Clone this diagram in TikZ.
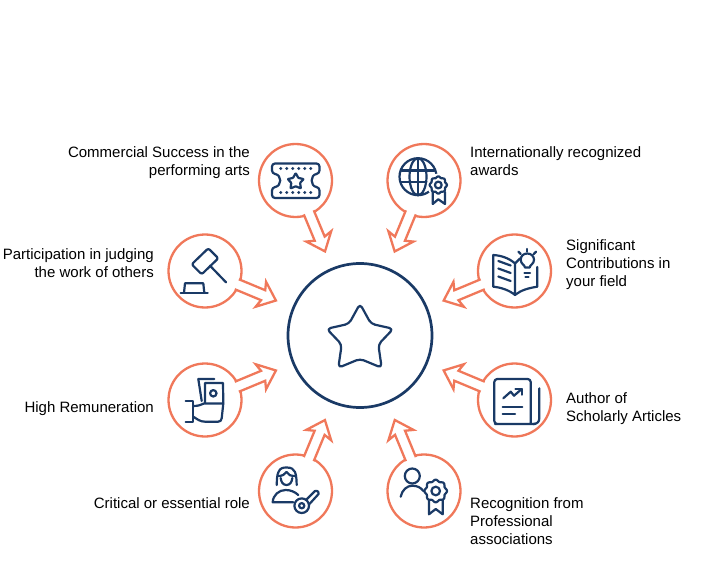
\documentclass[tikz,border=0pt]{standalone}
\usepackage{fontspec}
\setmainfont{Liberation Sans}
\usetikzlibrary{positioning, calc}
\definecolor{coral}{HTML}{F0785A}
\definecolor{navy}{HTML}{1A3A66}
\tikzstyle{ring} = [draw=coral, fill=white, circle, line width=2.3pt, minimum size=73pt, inner sep=0pt, outer sep=0pt]
\tikzstyle{pointer} = [draw=coral, fill=white, line width=2.3pt, line join=miter]
\tikzstyle{caption} = [inner sep=0pt, font=\fontsize{15}{18}\selectfont]
\tikzstyle{icon} = [draw=navy, line width=2.2pt, line cap=round, line join=round]
\newcommand{\starshape}{(0,-31.7) -- (11,-11.7) -- (33.3,-6.7) -- (18.3,9) -- (21.7,32.3) -- (0,23.3) -- (-21.7,32.3) -- (-18.3,9) -- (-33.3,-6.7) -- (-11,-11.7) -- cycle}
\newcommand{\rosette}[3]{\draw [icon, fill=white] plot [smooth, domain=0:360, samples=65] ({#1+(#3+0.08*#3*cos(8*\x))*cos(\x)},{#2+(#3+0.08*#3*cos(8*\x))*sin(\x)}) -- cycle;}
\newcommand{\callout}[1]{\draw [pointer] ($(#1)!34.9pt!8.9:(hub)$) -- ($(#1)!63.2pt!4.9:(hub)$) -- ($(#1)!62pt!12.6:(hub)$) -- ($(#1)!76.8pt!(hub)$) -- ($(#1)!62pt!-12.6:(hub)$) -- ($(#1)!63.2pt!-4.9:(hub)$) -- ($(#1)!34.9pt!-8.9:(hub)$);}

\begin{document}
\begin{tikzpicture}[x=1pt, y=-1pt]
    \useasboundingbox (0,0) rectangle (720,588);
    \node [draw=navy, fill=white, circle, line width=2.7pt, minimum size=144pt, inner sep=0pt] (hub) at (360,335.5) {};
    \node [ring] (ticket) at (295.5,180.5) {};
    \node [ring] (globe) at (424,180.5) {};
    \node [ring] (gavel) at (205,271) {};
    \node [ring] (bulb) at (514.5,271) {};
    \node [ring] (money) at (205,400) {};
    \node [ring] (article) at (514.5,400) {};
    \node [ring] (key) at (295.5,491) {};
    \node [ring] (medal) at (424,491) {};
    \callout{ticket}
    \callout{globe}
    \callout{gavel}
    \callout{bulb}
    \callout{money}
    \callout{article}
    \callout{key}
    \callout{medal}
    \node [caption, align=right, left=9pt of ticket, yshift=18pt] (ticketlabel) {Commercial Success in the\\performing arts};
    \node [caption, align=left, right=9.5pt of globe, yshift=19.5pt] (globelabel) {Internationally recognized\\awards};
    \node [caption, align=right, left=14.5pt of gavel, yshift=8pt] (gavellabel) {Participation in judging\\the work of others};
    \node [caption, align=left, right=15pt of bulb, yshift=6.5pt] (bulblabel) {Significant\\Contributions in\\your field};
    \node [caption, align=right, left=14.5pt of money, yshift=-8.5pt] (moneylabel) {High Remuneration};
    \node [caption, align=left, right=15pt of article, yshift=-8.5pt] (articlelabel) {Author of\\Scholarly Articles};
    \node [caption, align=right, left=9pt of key, yshift=-12pt] (keylabel) {Critical or essential role};
    \node [caption, align=left, right=9.5pt of medal, yshift=-30pt] (medallabel) {Recognition from\\Professional\\associations};
    % star
    \draw [icon, shift={(360,335.5)}, rounded corners=4pt] \starshape;
    % ticket
    \draw [icon, rounded corners=3pt] (272,163.5) -- (319.5,163.5) -- (319.5,173.5) .. controls (310,175) and (310,186) .. (319.5,187.5) -- (319.5,198) -- (272,198) -- (272,187.5) .. controls (282,186) and (282,175) .. (272,173.5) -- cycle;
    \foreach \px in {280.7,286.7,292.7,298.7,304.7,310.7} {
        \fill [navy] (\px,168.5) circle (1.7pt);
        \fill [navy] (\px,192.5) circle (1.7pt);
    }
    \draw [icon, shift={(295.7,180.7)}, scale=.24, rounded corners=.6pt] \starshape;
    % globe
    \draw [icon] (418,176.7) circle (18.5pt);
    \draw [icon] (418,176.7) ellipse (8.5pt and 18.5pt);
    \draw [icon] (418,158.2) -- (418,195.2);
    \draw [icon] (401.5,170.5) -- (434.5,170.5);
    \draw [icon] (401.5,182) -- (434.5,182);
    \draw [white, line width=3pt] (438.3,185) circle (10pt);
    \draw [icon, fill=white] (432.7,192) -- (432.7,204) -- (438.3,199.3) -- (445,204) -- (445,192);
    \rosette{438.3}{185}{8}
    \draw [icon] (438.3,185) circle (3.4pt);
    % gavel
    \draw [icon, rounded corners=2pt] (208.3,248.3) -- (218.3,258.3) -- (201.7,274.3) -- (191.7,264.3) -- cycle;
    \draw [icon] (210,265.7) -- (226,282.3);
    \draw [icon] (180.7,292.7) -- (207.7,292.7);
    \draw [icon] (184,292.7) -- (185,283.3) -- (203.3,283.3) -- (204.3,292.7);
    % money
    \draw [icon] (214.3,379) -- (198.3,379) -- (201.7,401);
    \draw [icon] (205,403) -- (205,383) -- (223,383) -- (223.3,403);
    \draw [icon] (213.3,393.3) circle (3.2pt);
    \draw [icon] (185.7,401) -- (193.3,401) -- (193.3,421.7) -- (185.7,421.7);
    \draw [icon] (193.3,406) .. controls (198,406) and (201,405) .. (204,403.5) -- (223.3,403.5) -- (221.7,418.3) .. controls (221.5,420.5) and (220,421.7) .. (218,421.7) -- (205,421.7) .. controls (200,421.7) and (197,419) .. (193.3,416.7);
    % woman and key
    \draw [icon] (276.7,485) .. controls (277,478) and (277,475) .. (278.5,472) .. controls (280,468) and (283,467.5) .. (286.7,467.5) .. controls (291,467.5) and (294,469) .. (295,472) .. controls (296.5,476) and (296.5,480) .. (296.7,485);
    \draw [icon] (278.5,476) .. controls (282,476) and (285,474.5) .. (286.5,472) .. controls (288,475) and (291,476) .. (295,476);
    \draw [icon] (280.7,478) .. controls (281,482) and (283,485) .. (286.5,485) .. controls (290,485) and (292,482) .. (292.3,478);
    \draw [icon] (293.3,502.3) -- (272.7,502.3) .. controls (273,495) and (279,490) .. (285.5,490) .. controls (291,490) and (295,492) .. (298.3,495);
    \draw [icon] (301.7,505.7) circle (7.3pt);
    \draw [icon] (301.7,505.7) circle (2.6pt);
    \draw [icon, rounded corners=1.5pt] (306.5,499.5) -- (316,490) -- (319.5,493) -- (309,504.5);
    % person and medal
    \draw [icon] (412.3,476) circle (7.5pt);
    \draw [icon] (400.7,496.7) .. controls (402,490) and (407,485.7) .. (412.3,485.7) .. controls (417,485.7) and (421,487.5) .. (423.3,491);
    \draw [icon] (429,499) -- (429,514.3) -- (435.7,509) -- (442.7,514.3) -- (442.7,499);
    \rosette{435.7}{491}{10.5}
    \draw [icon] (435.7,491) circle (4.3pt);
    % book and bulb
    \draw [icon] (515,295) -- (515,263.5) .. controls (509,258) and (501,255.5) .. (493.3,255) -- (493.3,286.7) .. controls (501,287.5) and (509,290) .. (515,295) .. controls (521,290) and (529,288) .. (537.3,286.7) -- (537.3,267);
    \draw [icon] (515,263.5) -- (520,258.5);
    \foreach \py in {261,268.5,276.5} {
        \draw [icon] (498.3,\py) -- (510.7,\py+4.5);
    }
    \draw [icon] (525,267.5) .. controls (525,265) and (520.7,264) .. (520.7,259.8) .. controls (520.7,256) and (523.5,253.5) .. (527.3,253.5) .. controls (531,253.5) and (534,256) .. (534,259.8) .. controls (534,264) and (529.7,265) .. (529.7,267.5) -- cycle;
    \draw [icon] (524.5,272.7) -- (530,272.7);
    \draw [icon] (525.5,276.7) -- (528.5,276.7);
    \draw [icon] (527.3,249) -- (527.3,251.5);
    \draw [icon] (518.5,251.7) -- (520.7,254);
    \draw [icon] (536,251.7) -- (533.7,254);
    % article
    \draw [icon, rounded corners=3pt] (535,424) -- (498,424) -- (494.3,424) -- (494.3,379) -- (530.7,379) -- (530.7,424);
    \draw [icon] (539.3,388.3) -- (539.3,418.3) .. controls (539.3,422) and (537,424) .. (533,424);
    \draw [icon] (503.3,398.3) -- (510.7,391.7) -- (514,395.7) -- (521.7,389);
    \draw [icon] (515.5,388.7) -- (521.7,388.7) -- (521.7,394.7);
    \draw [icon] (502.7,406.7) -- (522.3,406.7);
    \draw [icon] (502.7,414.3) -- (515,414.3);
\end{tikzpicture}
\end{document}
